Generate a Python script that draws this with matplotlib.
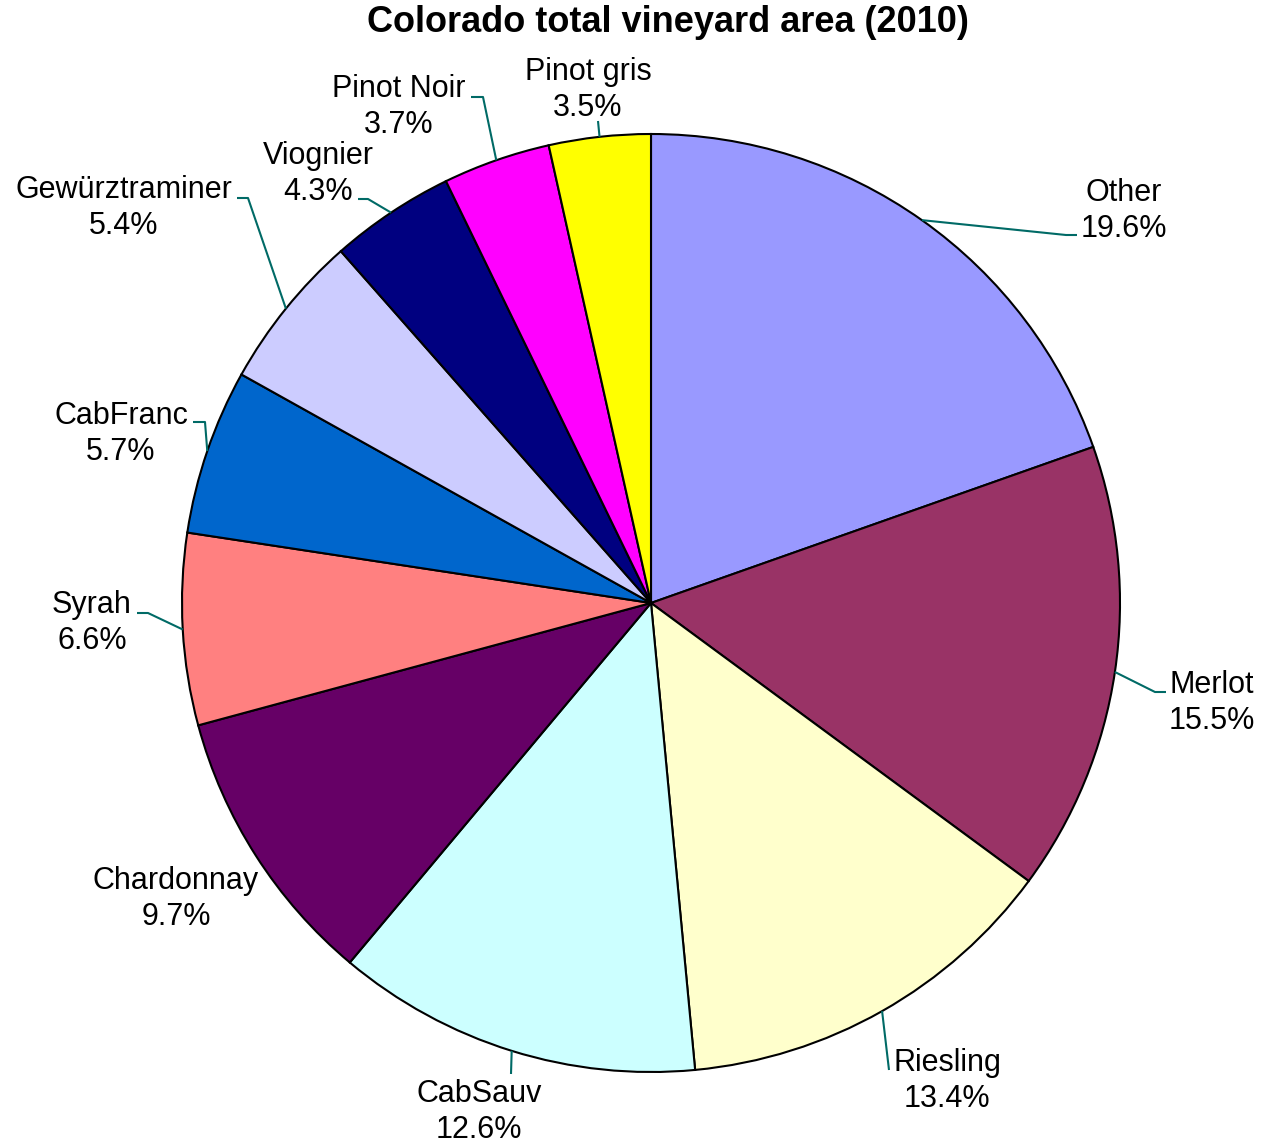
import numpy as np
import matplotlib
matplotlib.use('Agg')
import matplotlib.pyplot as plt

plt.rcParams['font.family'] = ['Liberation Sans', 'DejaVu Sans']

# Data (percent of total vineyard area)
varieties = ['Other', 'Merlot', 'Riesling', 'CabSauv', 'Chardonnay', 'Syrah',
             'CabFranc', 'Gewürztraminer', 'Viognier', 'Pinot Noir', 'Pinot gris']
share = [19.6, 15.5, 13.4, 12.6, 9.7, 6.6, 5.7, 5.4, 4.3, 3.7, 3.5]
colors = ['#9999FF', '#993366', '#FFFFCC', '#CCFFFF', '#660066', '#FF8080',
          '#0066CC', '#CCCCFF', '#000080', '#FF00FF', '#FFFF00']

# Layout in pixels
W, H = 1263, 1143
cx, cy, R = 651, 603, 469

# label block centres (px)
label_pos = {
    'Other': (1124, 211), 'Merlot': (1212, 703), 'Riesling': (947, 1081),
    'CabSauv': (479, 1112), 'Chardonnay': (176, 899), 'Syrah': (92, 623),
    'CabFranc': (121, 434), 'Gewürztraminer': (124, 208), 'Viognier': (318, 174),
    'Pinot Noir': (399, 107), 'Pinot gris': (588, 90),
}
# leader line points after the edge point (px)
leaders = {
    'Other': [(1066, 235), (1077, 235)],
    'Merlot': [(1155, 692), (1166, 692)],
    'Riesling': [(889, 1070)],
    'CabSauv': [(511, 1074)],
    'Syrah': [(148, 613), (137, 613)],
    'CabFranc': [(205, 422), (193, 422)],
    'Gewürztraminer': [(248, 198), (237, 198)],
    'Viognier': [(368, 199), (358, 199)],
    'Pinot Noir': [(483, 97), (471, 97)],
    'Pinot gris': [(598, 121)],
}


def px(x, y):
    return (x - cx) / R, (cy - y) / R


fig = plt.figure(figsize=(W / 100, H / 100), dpi=100)
ax = fig.add_axes([0, 0, 1, 1])
ax.pie(share, colors=colors, startangle=90, counterclock=False, radius=1,
       wedgeprops=dict(edgecolor='black', linewidth=1.5))
ax.set_xlim(-cx / R, (W - cx) / R)
ax.set_ylim((cy - H) / R, cy / R)
ax.axis('off')

cum = 0
for name, val in zip(varieties, share):
    theta = np.deg2rad(90 - 3.6 * (cum + val / 2))
    cum += val
    if name in leaders:
        pts = [(np.cos(theta), np.sin(theta))] + [px(*p) for p in leaders[name]]
        xs, ys = zip(*pts)
        ax.plot(xs, ys, color='#006A66', lw=1.5, solid_capstyle='butt')
    lx, ly = px(*label_pos[name])
    ax.text(lx, ly, f'{name}\n{val}%', ha='center', va='center',
            fontsize=22, linespacing=1.22)

fig.text(668 / W, 1 - 23 / H, 'Colorado total vineyard area (2010)',
         ha='center', va='center', fontsize=26, fontweight='bold')

fig.savefig('out.png', dpi=100)
